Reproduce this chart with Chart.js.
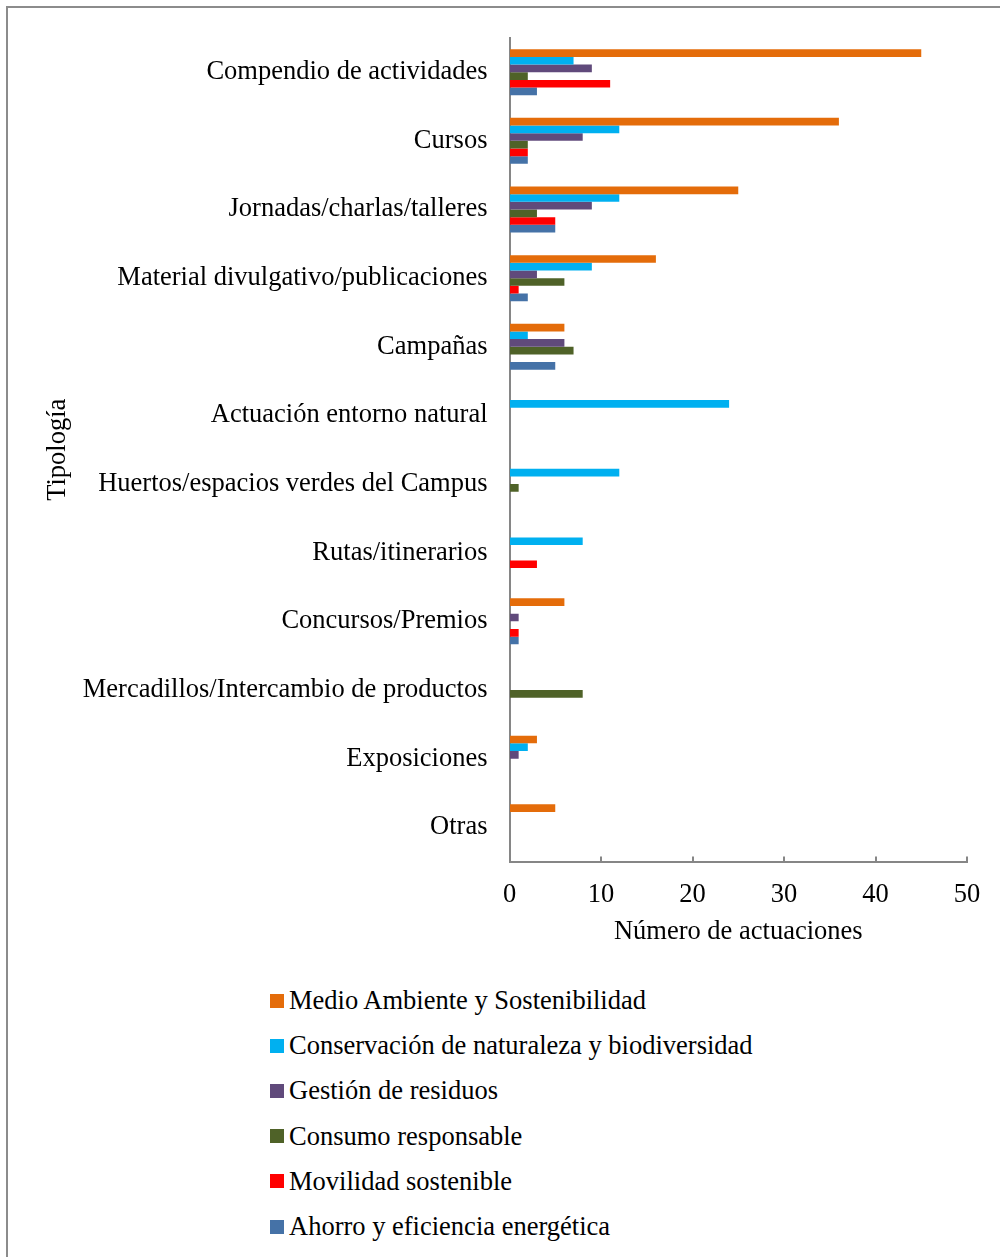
<!DOCTYPE html>
<html lang="es">
<head>
<meta charset="UTF-8">
<title>Tipología de actuaciones</title>
<script src="https://cdn.jsdelivr.net/npm/chart.js"></script>
<style>
  html, body { margin: 0; padding: 0; background: #fff; }
  body { width: 1000px; height: 1257px; position: relative; overflow: hidden; font-family: "Liberation Serif", "Times New Roman", serif; }
  #frame { position: absolute; left: 6px; top: 6px; width: 1100px; height: 1400px; border: 2px solid #8c8c8c; box-sizing: border-box; }
  #wrap { position: absolute; left: 0; top: 0; width: 1000px; height: 960px; }
  #legend { position: absolute; left: 270px; top: 978px; }
  .item { height: 45.2px; display: flex; align-items: center; font-size: 26.5px; color: #000; }
  .box { width: 14px; height: 14px; margin-right: 5px; flex: none; }
</style>
</head>
<body>
<div id="frame"></div>
<div id="wrap"><canvas id="chart"></canvas></div>
<div id="legend"></div>

<script>
const categories = [
  'Compendio de actividades',
  'Cursos',
  'Jornadas/charlas/talleres',
  'Material divulgativo/publicaciones',
  'Campañas',
  'Actuación entorno natural',
  'Huertos/espacios verdes del Campus',
  'Rutas/itinerarios',
  'Concursos/Premios',
  'Mercadillos/Intercambio de productos',
  'Exposiciones',
  'Otras'
];

const seriesNames = [
  'Medio Ambiente y Sostenibilidad',
  'Conservación de naturaleza y biodiversidad',
  'Gestión de residuos',
  'Consumo responsable',
  'Movilidad sostenible',
  'Ahorro y eficiencia energética'
];

const medioAmbiente = [45, 36, 25, 16, 6, 0, 0, 0, 6, 0, 3, 5];
const conservacion  = [7, 12, 12, 9, 2, 24, 12, 8, 0, 0, 2, 0];
const residuos      = [9, 8, 9, 3, 6, 0, 0, 0, 1, 0, 1, 0];
const consumo       = [2, 2, 3, 6, 7, 0, 1, 0, 0, 8, 0, 0];
const movilidad     = [11, 2, 5, 1, 0, 0, 0, 3, 1, 0, 0, 0];
const ahorro        = [3, 2, 5, 2, 5, 0, 0, 0, 1, 0, 0, 0];

const xTicks = [0, 10, 20, 30, 40, 50];

const colors = ['#E46C0A', '#00B0F0', '#604A7B', '#4F6228', '#FF0000', '#4572A7'];
const axisColor = '#868686';
const font = { family: '"Liberation Serif", "Times New Roman", serif', size: 26.5 };

const values = [medioAmbiente, conservacion, residuos, consumo, movilidad, ahorro];

// little upward tick marks on the x axis, like the original
const innerTicks = {
  id: 'innerTicks',
  afterDraw(chart) {
    const x = chart.scales.x;
    const c = chart.ctx;
    c.save();
    c.strokeStyle = axisColor;
    c.lineWidth = 2;
    xTicks.forEach(v => {
      const px = Math.round(x.getPixelForValue(v));
      c.beginPath();
      c.moveTo(px, x.top);
      c.lineTo(px, x.top - 5);
      c.stroke();
    });
    c.restore();
  }
};

const chart = new Chart(document.getElementById('chart'), {
  type: 'bar',
  data: {
    labels: categories,
    datasets: seriesNames.map((name, i) => ({
      label: name,
      data: values[i],
      backgroundColor: colors[i],
      borderWidth: 0,
      categoryPercentage: 0.67,
      barPercentage: 1.0
    }))
  },
  options: {
    indexAxis: 'y',
    responsive: true,
    maintainAspectRatio: false,
    animation: false,
    layout: { padding: { left: 38, top: 36, right: 33, bottom: 8 } },
    plugins: {
      legend: { display: false },
      tooltip: { enabled: false }
    },
    scales: {
      x: {
        min: 0,
        max: 50,
        afterBuildTicks: s => { s.ticks = xTicks.map(v => ({ value: v })); },
        afterFit: s => { s.height = 90.4; },
        grid: { drawOnChartArea: false, drawTicks: false },
        border: { color: axisColor, width: 2 },
        ticks: { color: '#000', font: font, padding: 18 },
        title: { display: true, text: 'Número de actuaciones', color: '#000', font: font, padding: 4 }
      },
      y: {
        afterFit: s => { s.width = 471.5; },
        grid: { display: false, drawTicks: false },
        border: { color: axisColor, width: 2 },
        ticks: { color: '#000', font: font, padding: 22, autoSkip: false },
        title: { display: true, text: 'Tipología', color: '#000', font: font, padding: 4 }
      }
    }
  },
  plugins: [innerTicks]
});

// legend, one entry per row, built from the chart's datasets
const legendEl = document.getElementById('legend');
chart.data.datasets.forEach(ds => {
  const row = document.createElement('div');
  row.className = 'item';
  const box = document.createElement('span');
  box.className = 'box';
  box.style.background = ds.backgroundColor;
  const txt = document.createElement('span');
  txt.textContent = ds.label;
  row.appendChild(box);
  row.appendChild(txt);
  legendEl.appendChild(row);
});
</script>
</body>
</html>
